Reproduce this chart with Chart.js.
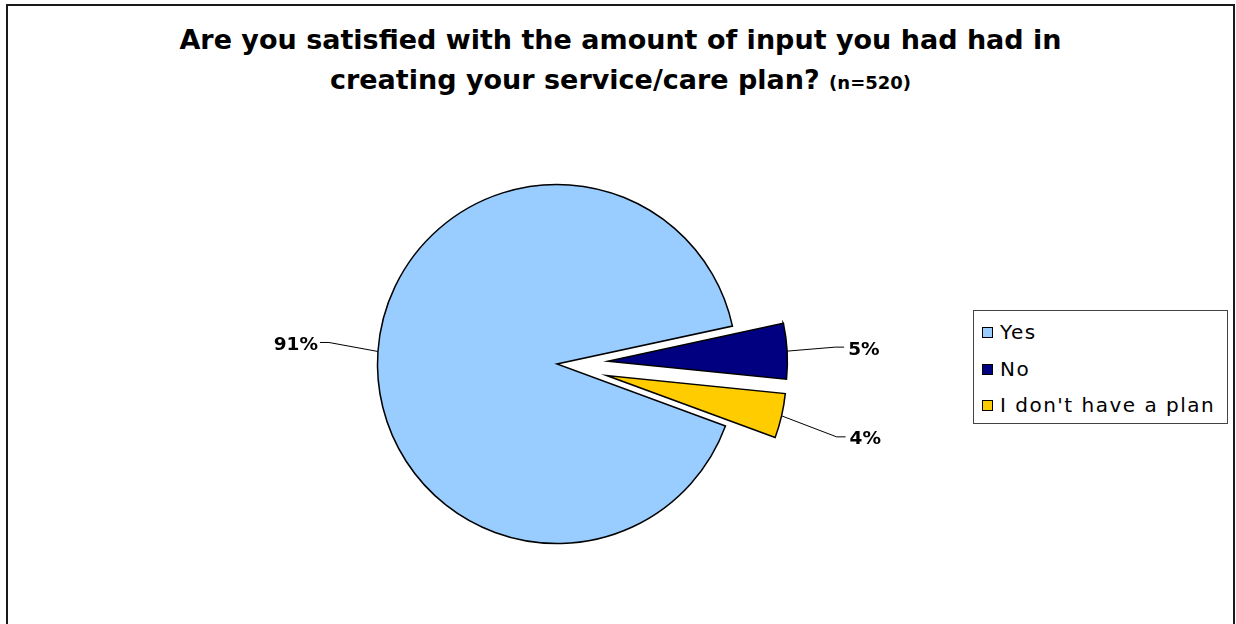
<!DOCTYPE html>
<html><head><meta charset="utf-8">
<script src="https://cdn.jsdelivr.net/npm/chart.js@4.4.1/dist/chart.umd.min.js"></script>
<style>
html,body{margin:0;padding:0;background:#fff;}
body{width:1236px;height:624px;position:relative;overflow:hidden;font-family:"DejaVu Sans",sans-serif;}
#frame{position:absolute;left:6px;top:4px;width:1229px;height:660px;border:2px solid #1a1a1a;box-sizing:border-box;}
#title{position:absolute;left:6px;width:1229px;top:20px;text-align:center;font-weight:bold;font-size:27px;line-height:40px;color:#000;}
#title .small{font-size:18px;}
#chart{position:absolute;left:0;top:0;}
#legend{position:absolute;left:973px;top:310px;width:255px;height:114px;border:1px solid #444;box-sizing:border-box;background:#fff;}
.lg{position:absolute;left:8px;height:20px;line-height:20px;font-size:20px;letter-spacing:1.5px;color:#000;white-space:nowrap;}
.lg .sw{position:absolute;left:0;top:5px;width:11px;height:11px;border:1.5px solid #000;box-sizing:border-box;}
.lg .tx{position:absolute;left:18px;top:0;}
.dl{position:absolute;font-weight:bold;font-size:18.5px;line-height:20px;color:#000;white-space:nowrap;}
</style>
</head><body>
<div id="frame"></div>
<div id="title">Are you satisfied with the amount of input you had had in<br>creating your service/care plan? <span class="small">(n=520)</span></div>
<canvas id="chart" width="1236" height="624"></canvas>
<div id="legend"></div>
<script>
const categories = ["Yes", "No", "I don't have a plan"];
const values = [91, 5, 4];
const colors = ["#99CCFF", "#000080", "#FFCC00"];

// styling / layout
const explode = [0, 51, 51];
const leaderOffsets = [[-49, -9], [48, -4], [55, 21]];
const pieRadius = 179.5;

const total = values.reduce((a, b) => a + b, 0);
const pctLabels = values.map(v => Math.round(v / total * 100) + '%');

// legend
const legend = document.getElementById('legend');
categories.forEach((c, i) => {
  const row = document.createElement('div');
  row.className = 'lg';
  row.style.top = (11 + i * 36.5) + 'px';
  const sw = document.createElement('span');
  sw.className = 'sw';
  sw.style.background = colors[i];
  const tx = document.createElement('span');
  tx.className = 'tx';
  tx.textContent = c;
  row.appendChild(sw); row.appendChild(tx);
  legend.appendChild(row);
});

const explodePlugin = {
  id: 'explode',
  afterDatasetUpdate(chart, args) {
    args.meta.data.forEach((arc, i) => {
      const e = explode[i];
      if (!e) return;
      const mid = (arc.startAngle + arc.endAngle) / 2;
      arc.x += e * Math.cos(mid);
      arc.y += e * Math.sin(mid);
    });
  }
};

const labelPlugin = {
  id: 'pctLabels',
  afterDatasetsDraw(chart) {
    const ctx = chart.ctx;
    const meta = chart.getDatasetMeta(0);
    meta.data.forEach((arc, i) => {
      const mid = (arc.startAngle + arc.endAngle) / 2;
      const ex = arc.x + arc.outerRadius * Math.cos(mid);
      const ey = arc.y + arc.outerRadius * Math.sin(mid);
      const side = Math.cos(mid) < 0 ? -1 : 1;
      const bx = ex + leaderOffsets[i][0];
      const by = ey + leaderOffsets[i][1];
      const hx = bx + side * 9;
      ctx.save();
      ctx.strokeStyle = '#000';
      ctx.lineWidth = 1;
      ctx.beginPath();
      ctx.moveTo(ex, ey);
      ctx.lineTo(bx, by);
      ctx.lineTo(hx, by);
      ctx.stroke();
      ctx.restore();
      let el = document.getElementById('dl' + i);
      if (!el) {
        el = document.createElement('div');
        el.id = 'dl' + i;
        el.className = 'dl';
        el.textContent = pctLabels[i];
        document.body.appendChild(el);
      }
      el.style.top = (by - 8.5) + 'px';
      if (side < 0) {
        el.style.left = 'auto';
        el.style.right = (1236 - hx + 2) + 'px';
      } else {
        el.style.left = (hx + 4) + 'px';
      }
    });
  }
};

new Chart(document.getElementById('chart'), {
  type: 'pie',
  data: {
    labels: categories,
    datasets: [{
      data: values,
      backgroundColor: colors,
      borderColor: '#000',
      borderWidth: 1.5,
      borderJoinStyle: 'miter'
    }]
  },
  options: {
    responsive: false,
    animation: false,
    events: [],
    rotation: 110.2,
    radius: pieRadius,
    layout: { padding: { left: 0, right: 122, top: 104, bottom: 0 } },
    plugins: { legend: { display: false }, tooltip: { enabled: false }, title: { display: false } }
  },
  plugins: [explodePlugin, labelPlugin]
});
</script>
</body></html>
